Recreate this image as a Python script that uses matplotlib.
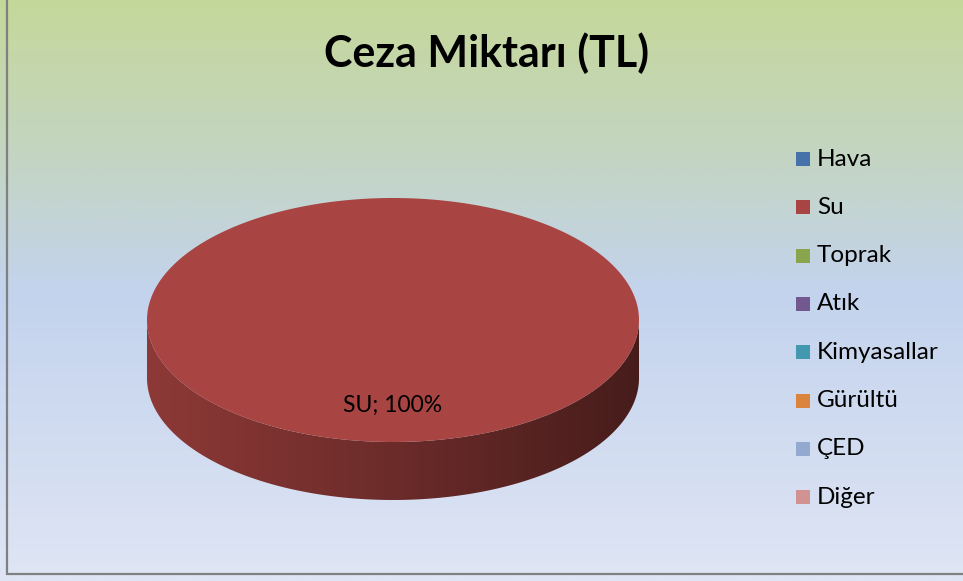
import numpy as np
import matplotlib.pyplot as plt
from matplotlib.colors import LinearSegmentedColormap, to_rgb
from matplotlib.patches import Polygon, Rectangle

# data
categories = ['Hava', 'Su', 'Toprak', 'Atık', 'Kimyasallar', 'Gürültü', 'ÇED', 'Diğer']
values = [0, 100, 0, 0, 0, 0, 0, 0]
colors = ['#4672AA', '#A84441', '#89A54E', '#71588F', '#4198AF', '#DB843D', '#93A9CF', '#D19392']
title = 'Ceza Miktarı (TL)'

W, H = 963, 581
fig = plt.figure(figsize=(W / 100, H / 100), dpi=100)
ax = fig.add_axes([0, 0, 1, 1])
ax.set_xlim(0, W)
ax.set_ylim(H, 0)
ax.axis('off')

# background gradient (green top -> blue -> pale)
bg = LinearSegmentedColormap.from_list('bg', [
    (0.0, '#c5d89a'), (0.25, '#c3d5bf'), (0.5, '#c3d3ed'), (1.0, '#dfe5f4')])
grad = np.linspace(0, 1, 256).reshape(-1, 1)
ax.imshow(grad, cmap=bg, extent=[0, W, H, 0], aspect='auto', zorder=0)
ax.add_patch(Rectangle((7, -10), W + 20, 584, fill=False, ec='#808080', lw=1.6, zorder=1))

# 3d pie geometry (pixel layout)
cx, cy, rx, ry, depth = 393, 320, 246, 122, 58
total = sum(values)
start = 0.0
shade = LinearSegmentedColormap.from_list('sh', [(0, (0.84,) * 3), (0.5, (0.64,) * 3), (1, (0.42,) * 3)])

def pt(t, dy=0):
    return cx + rx * np.sin(t), cy - ry * np.cos(t) + dy

for name, v, c in zip(categories, values, colors):
    if v <= 0:
        continue
    ang = 2 * np.pi * v / total
    t0, t1 = start, start + ang
    base = np.array(to_rgb(c))
    # side wall (visible front half: pi/2 .. 3pi/2)
    s0, s1 = max(t0, np.pi / 2), min(t1, 3 * np.pi / 2)
    if s1 > s0:
        ts = np.linspace(s0, s1, 200)
        xt, yt = pt(ts)
        xb, yb = pt(ts[::-1], depth)
        side = Polygon(np.column_stack([np.r_[xt, xb], np.r_[yt, yb]]), closed=True,
                       fc='none', ec='none', zorder=2)
        ax.add_patch(side)
        g = shade(np.linspace(0, 1, 256))[:, :3] * base
        img = ax.imshow(g[np.newaxis, :, :], extent=[cx - rx, cx + rx, cy + ry + depth, cy - ry],
                        aspect='auto', zorder=2, interpolation='bilinear')
        img.set_clip_path(side)
    # top face
    ts = np.linspace(t0, t1, 300)
    xt, yt = pt(ts)
    if ang < 2 * np.pi - 1e-9:
        xt, yt = np.r_[cx, xt], np.r_[cy, yt]
    ax.add_patch(Polygon(np.column_stack([xt, yt]), closed=True, fc=c, ec='none', zorder=3))
    # data label
    mid = (t0 + t1) / 2
    lx, ly = cx + 0.7 * rx * np.sin(mid), cy - 0.7 * ry * np.cos(mid)
    ax.text(lx, ly, f'{name.upper()}; {v / total * 100:.0f}%', ha='center', va='center',
            fontsize=16.5, family='Lato', color='black', zorder=4)
    start = t1

ax.text(487, 53, title, ha='center', va='center', fontsize=31, fontweight='bold',
        family='Lato', zorder=4)

# legend
ly0, dly = 159, 48.3
for i, (name, c) in enumerate(zip(categories, colors)):
    y = ly0 + i * dly
    ax.add_patch(Rectangle((796, y - 7), 14, 14, fc=c, ec='none', zorder=4))
    ax.text(817, y, name, ha='left', va='center', fontsize=17.5, family='Lato', zorder=4)

fig.savefig('out.png', dpi=100)
